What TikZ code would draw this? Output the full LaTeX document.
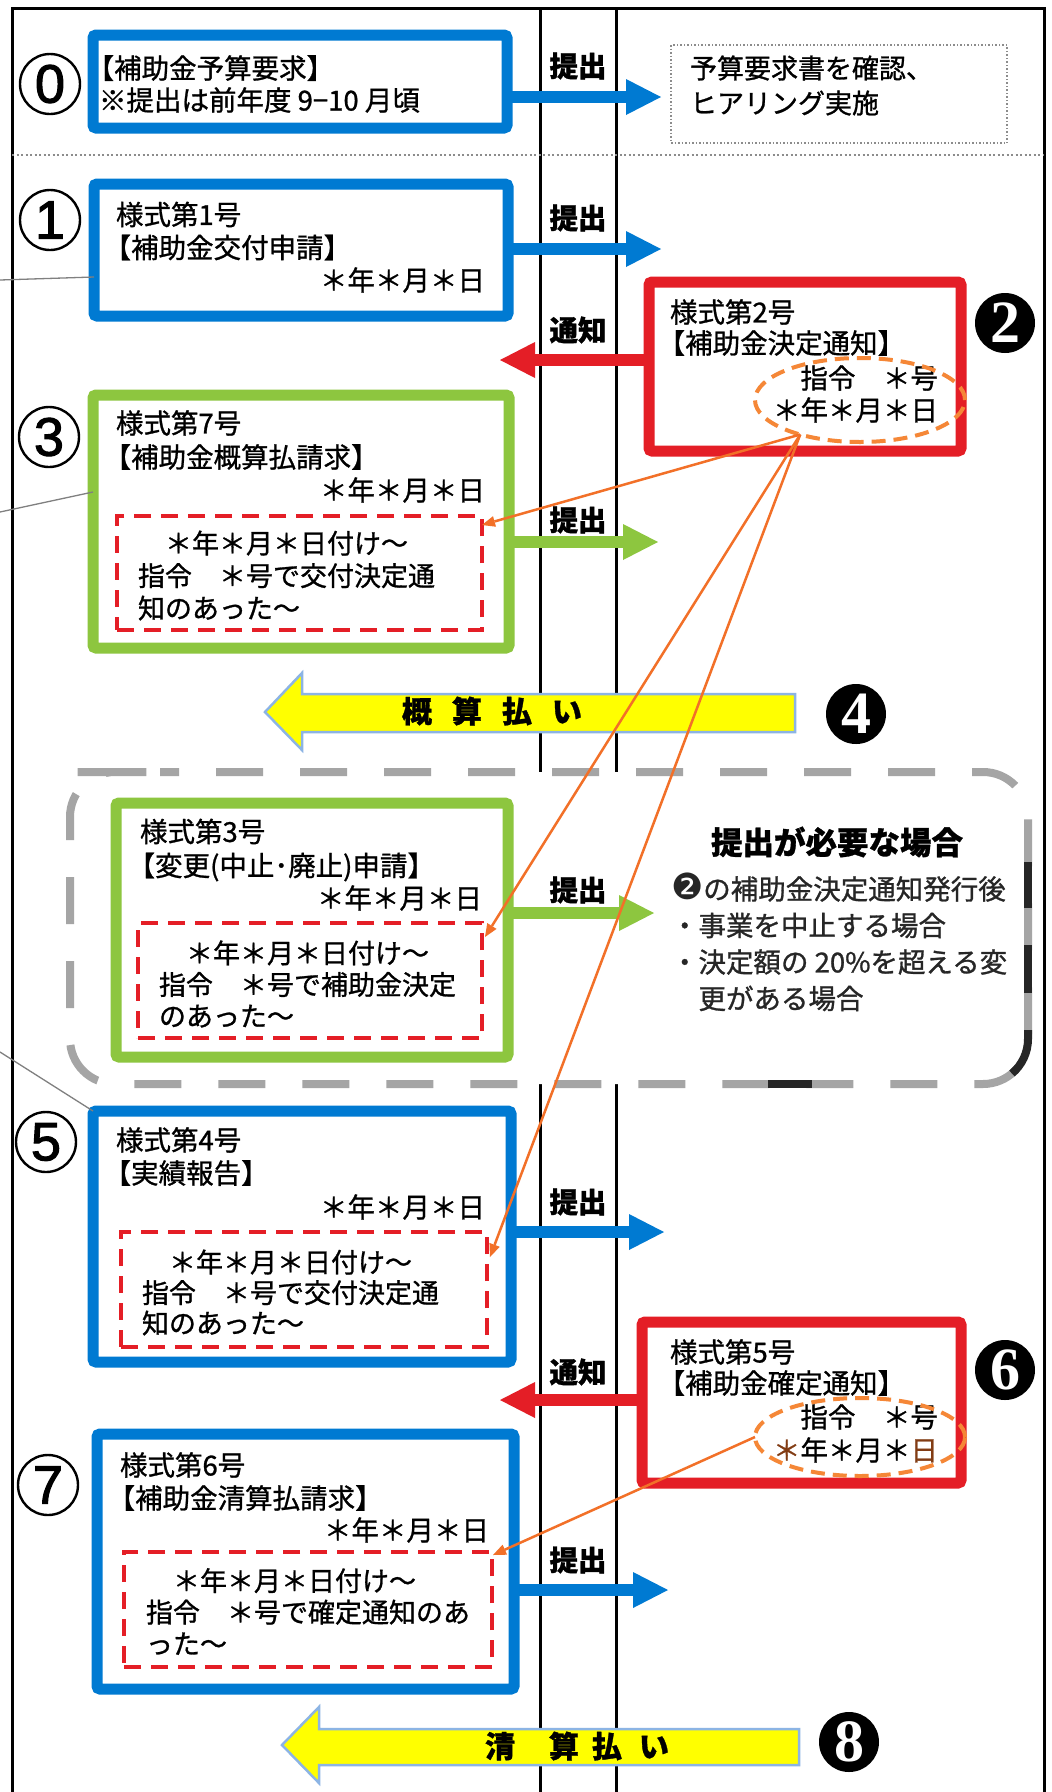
\documentclass[tikz,border=0pt]{standalone}
\usepackage{fontspec}
\setmainfont{Noto Sans CJK JP}[FakeBold=1]
\newfontfamily\digsans{Liberation Sans}[FakeBold=2]
\newfontfamily\digserif{Liberation Serif}
\newfontfamily\djv{DejaVu Sans}
\usetikzlibrary{arrows.meta,calc,shapes.geometric}
\definecolor{cblue}{RGB}{0,122,210}
\definecolor{cred}{RGB}{228,30,38}
\definecolor{cgreen}{RGB}{141,198,63}
\definecolor{corange}{RGB}{242,112,40}
\definecolor{cellipse}{RGB}{245,135,55}
\definecolor{cyellow}{RGB}{255,255,0}
\definecolor{cyout}{RGB}{140,180,228}
\definecolor{cgray}{RGB}{165,165,165}
\definecolor{cbrown}{RGB}{130,60,20}
\newcommand{\lbrk}{\kern-0.45em【}
\begin{document}
\begin{tikzpicture}[x=1pt,y=-1pt,
  every node/.style={inner sep=0pt, outer sep=0pt},
  formbox/.style={draw, line width=11pt, rounded corners=3pt, anchor=north west},
  inbox/.style={draw=cred, line width=3.5pt, dash pattern=on 17pt off 10pt, anchor=north west},
  titletext/.style={anchor=west, align=left, font=\fontsize{27.5pt}{33pt}\selectfont},
  datetext/.style={anchor=east, font=\fontsize{27.5pt}{32pt}\selectfont},
  bodytext/.style={anchor=west, align=left, font=\fontsize{27pt}{31.5pt}\selectfont},
  lbl/.style={font=\bfseries\fontsize{28.5pt}{29pt}\selectfont},
  blk/.style={line width=12pt, -{Triangle[length=35pt,width=36pt,line width=0pt]}},
  ring/.style={circle, draw, line width=2.4pt, minimum size=60pt, font=\digsans\fontsize{54pt}{54pt}\selectfont},
  disc/.style={circle, fill=black, minimum size=60pt, text=white, font=\digserif\bfseries\fontsize{60pt}{60pt}\selectfont},
  oval/.style={ellipse, draw=cellipse, line width=4pt, dash pattern=on 14pt off 8pt},
  link/.style={draw=corange, line width=2.5pt, -{Triangle[length=13pt,width=11pt,line width=0pt]}},
  stray/.style={draw=black!50, line width=1.3pt},
  yarrow/.style={fill=cyellow, draw=cyout, line width=2.5pt, line join=miter},
  paytext/.style={font=\bfseries\fontsize{30pt}{31pt}\selectfont},
  lane/.style={line width=3pt},
]
% background and frame
\fill[white] (0,0) rectangle (1052,1792);
\useasboundingbox (0,0) rectangle (1052,1792);
\draw[line width=3pt] (12,1792) -- (12,8) -- (1044,8) -- (1044,1792);
\draw[lane] (540,8) -- (540,1792);
\draw[lane] (616,8) -- (616,1792);
\draw[draw=black!45, line width=2pt, dash pattern=on 2pt off 2.5pt] (12,155) -- (1044,155);

% region of optional submission
\draw[draw=cgray, fill=white, line width=8pt, rounded corners=45pt, dash pattern=on 47pt off 37pt, dash phase=28pt]
  (115,772) -- (1028,772) -- (1028,1084) -- (70,1084) -- (70,772) -- cycle;
\draw[line width=8pt, black!85] (1028,862) -- (1028,908);
\draw[line width=8pt, black!85] (1028,945) -- (1028,993);
\draw[line width=8pt, black!85] (1028,1030) -- (1028,1039) arc[start angle=0, end angle=50, radius=45];
\draw[line width=8pt, black!85] (768,1084) -- (812,1084);

% stray grey lines
\coordinate (g1) at (0,280); \coordinate (g1e) at (0,277);
\coordinate (g2) at (0,512); \coordinate (g2e) at (0,492);
\coordinate (g3) at (0,1052);

% boxes
\node[formbox, draw=cblue, minimum width=414pt, minimum height=93pt] (box0) at (93,35) {};
\node[formbox, draw=cblue, minimum width=414pt, minimum height=132pt] (box1) at (94,184) {};
\node[formbox, draw=cred, minimum width=312pt, minimum height=169pt] (box2) at (649,282) {};
\node[formbox, draw=cgreen, minimum width=416pt, minimum height=253pt] (box3) at (93,395) {};
\node[formbox, draw=cgreen, minimum width=392pt, minimum height=254pt] (box3b) at (116,803) {};
\node[formbox, draw=cblue, minimum width=418pt, minimum height=251pt] (box5) at (93,1111) {};
\node[formbox, draw=cred, minimum width=319pt, minimum height=161pt] (box6) at (642,1322) {};
\node[formbox, draw=cblue, minimum width=417pt, minimum height=255pt] (box7) at (97,1434) {};

\draw[stray] (g1) -- (box1.west |- g1e);
\draw[stray] (g2) -- (box3.west |- g2e);
\draw[stray] (g3) -- (box5.north west);

\node[inbox, minimum width=365pt, minimum height=114pt] (d3) at (117,516) {};
\node[inbox, minimum width=344pt, minimum height=115pt] (d3b) at (138,923) {};
\node[inbox, minimum width=366pt, minimum height=115pt] (d5) at (121,1232) {};
\node[inbox, minimum width=368pt, minimum height=115pt] (d7) at (124,1552) {};

% row 0
\node[titletext, font=\fontsize{27.5pt}{32pt}\selectfont] (t0) at (99,84) {\lbrk 補助金予算要求】\\※提出は前年度 9−10 月頃};
\node[draw=black!45, line width=1.5pt, dash pattern=on 1.5pt off 2pt, minimum width=336pt, minimum height=98pt, anchor=north west] (r0) at (671,45) {};
\node[titletext, font=\fontsize{27pt}{35pt}\selectfont] (t0r) at (690,85.5) {予算要求書を確認、\\ヒアリング実施};

% box texts
\node[titletext] (t1) at (116,231) {様式第1号\\\lbrk 補助金交付申請】};
\node[datetext] (t1d) at (485,280) {＊年＊月＊日};

\node[titletext, font=\fontsize{27.5pt}{31pt}\selectfont] (t2) at (670,327.5) {様式第2号\\\lbrk 補助金決定通知】};
\node[datetext] (t2n) at (938,378) {指令　＊号};
\node[datetext] (t2d) at (938,410) {＊年＊月＊日};

\node[titletext, font=\fontsize{27.5pt}{34pt}\selectfont] (t3) at (116,440) {様式第7号\\\lbrk 補助金概算払請求】};
\node[datetext] (t3d) at (485,490) {＊年＊月＊日};
\node[bodytext, font=\fontsize{27pt}{32.5pt}\selectfont] (t3i) at (138,575.5) {　＊年＊月＊日付け～\\指令　＊号で交付決定通\\知のあった～};

\node[titletext, font=\fontsize{27.5pt}{34pt}\selectfont] (t3b) at (140,850) {様式第3号\\\lbrk 変更(中止･廃止)申請】};
\node[datetext] (t3bd) at (482,898) {＊年＊月＊日};
\node[bodytext] (t3bi) at (159,984) {　＊年＊月＊日付け～\\指令　＊号で補助金決定\\のあった～};

\node[titletext] (t5) at (116,1156.5) {様式第4号\\\lbrk 実績報告】};
\node[datetext] (t5d) at (485,1207) {＊年＊月＊日};
\node[bodytext, font=\fontsize{27pt}{30.5pt}\selectfont] (t5i) at (142,1292.5) {　＊年＊月＊日付け～\\指令　＊号で交付決定通\\知のあった～};

\node[titletext, font=\fontsize{27.5pt}{31pt}\selectfont] (t6) at (670,1367.5) {様式第5号\\\lbrk 補助金確定通知】};
\node[datetext] (t6n) at (938,1417) {指令　＊号};
\node[datetext] (t6d) at (938,1450) {{\color{cbrown}＊}年＊月＊{\color{cbrown}日}};

\node[titletext] (t7) at (120,1481.5) {様式第6号\\\lbrk 補助金清算払請求】};
\node[datetext] (t7d) at (489,1530) {＊年＊月＊日};
\node[bodytext] (t7i) at (146,1611.5) {　＊年＊月＊日付け～\\指令　＊号で確定通知のあ\\った～};

% block arrows
\coordinate (tip0) at (661,97);
\coordinate (tip1) at (661,249);
\coordinate (tip2) at (500,360);
\coordinate (tip3) at (658,542);
\coordinate (tip3b) at (654,913);
\coordinate (tip5) at (664,1232);
\coordinate (tip6) at (500,1400);
\coordinate (tip7) at (668,1590);
\draw[blk, cblue] (box0.east |- tip0) -- (tip0);
\draw[blk, cblue] (box1.east |- tip1) -- (tip1);
\draw[blk, cred] (box2.west |- tip2) -- (tip2);
\draw[blk, cgreen] (box3.east |- tip3) -- (tip3);
\draw[blk, cgreen] (box3b.east |- tip3b) -- (tip3b);
\draw[blk, cblue] (box5.east |- tip5) -- (tip5);
\draw[blk, cred] (box6.west |- tip6) -- (tip6);
\draw[blk, cblue] (box7.east |- tip7) -- (tip7);

\node[lbl] (l0) at (578,66) {提出};
\node[lbl] (l1) at (578,218) {提出};
\node[lbl] (l2) at (578,330) {通知};
\node[lbl] (l3) at (578,520) {提出};
\node[lbl] (l3b) at (578,890) {提出};
\node[lbl] (l5) at (578,1202) {提出};
\node[lbl] (l6) at (578,1372) {通知};
\node[lbl] (l7) at (578,1560) {提出};

% condition text
\node[font=\bfseries\fontsize{31.5pt}{32pt}\selectfont] (cond) at (837,842) {提出が必要な場合};
\node[anchor=west, align=left, font=\fontsize{27.5pt}{36.5pt}\selectfont, text=black!85] (condl) at (671,942)
  {{\djv\fontsize{36pt}{36pt}\selectfont ❷}の補助金決定通知発行後\\・事業を中止する場合\\・決定額の 20\%を超える変\\　更がある場合};

% payment arrows
\draw[yarrow] (265,712) -- (302,673) -- (302,694) -- (795,694) -- (795,732) -- (302,732) -- (302,750) -- cycle;
\node[paytext] (pay1) at (492,711) {概\hspace{20pt}算\hspace{20pt}払\hspace{20pt}い};
\draw[yarrow] (282,1745) -- (319,1707) -- (319,1729) -- (799,1729) -- (799,1765) -- (319,1765) -- (319,1783) -- cycle;
\node[paytext] (pay2) at (577,1746) {清\hspace{34pt}算\hspace{13pt}払\hspace{17pt}い};

% step numbers
\node[ring] (n0) at (50,84) {0};
\node[ring] (n1) at (50,220) {1};
\node[ring] (n3) at (49,437) {3};
\node[ring] (n5) at (46,1142) {5};
\node[ring] (n7) at (48,1485) {7};
\node[disc] (n2) at (1005,323) {2};
\node[disc] (n4) at (856,714) {4};
\node[disc] (n6) at (1005,1370) {6};
\node[disc] (n8) at (849,1742) {8};

% date ellipses
\node[oval, minimum width=210pt, minimum height=84pt] (e2) at (860,400) {};
\node[oval, minimum width=210pt, minimum height=78pt] (e6) at (860,1437) {};

% reference links
\draw[link] (e2.210) -- ($(d3.north east)+(0,9)$);
\draw[link] (e2.210) -- ($(d3b.north east)+(3,14)$);
\draw[link] (e2.210) -- ($(d5.north east)+(3,25)$);
\draw[link] (e6.west) -- ($(d7.north east)+(1,3)$);
\end{tikzpicture}
\end{document}
